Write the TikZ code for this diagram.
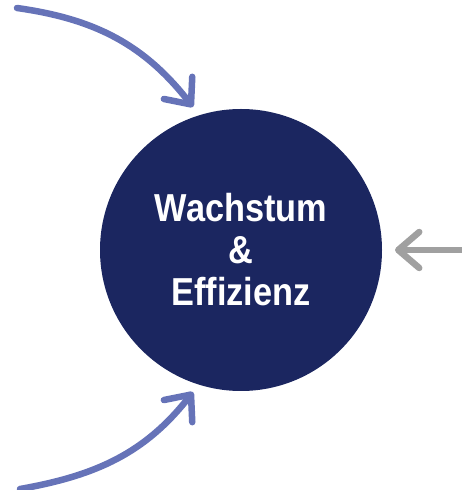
\documentclass[tikz,border=0pt]{standalone}
\usepackage{fontspec}
\setmainfont{Liberation Sans}[FakeStretch=0.88]
\usetikzlibrary{arrows.meta}
\definecolor{navy}{HTML}{1B2660}
\definecolor{arrowblue}{HTML}{6673B8}
\definecolor{arrowgray}{HTML}{A0A0A0}
\begin{document}
\begin{tikzpicture}[x=1pt,y=1pt,
  hub/.style={circle, fill=navy, minimum size=282pt, inner sep=0pt, text=white,
    font=\bfseries\fontsize{39}{44}\selectfont, align=center},
  flow/.style={line width=6.5pt, line cap=round, color=#1,
    -{Straight Barb[length=21pt, width=36pt, round]}},
]
\useasboundingbox (0,0) rectangle (462,490);
\node[hub] (c) at (241,240) {Wachstum\\[-2pt]\&\\[-2pt]Effizienz};
\coordinate (s1) at (17,482);
\coordinate (t1) at (193,383);
\coordinate (s2) at (20,1);
\coordinate (t2) at (193,98);
\coordinate (s3) at (466,240);
\coordinate (t3) at (395,240);
\draw[flow=arrowblue] (s1) to[out=-8, in=128, looseness=1.0] (t1);
\draw[flow=arrowblue] (s2) to[out=10, in=-128, looseness=1.0] (t2);
\draw[flow=arrowgray] (s3) -- (t3);
\end{tikzpicture}
\end{document}
